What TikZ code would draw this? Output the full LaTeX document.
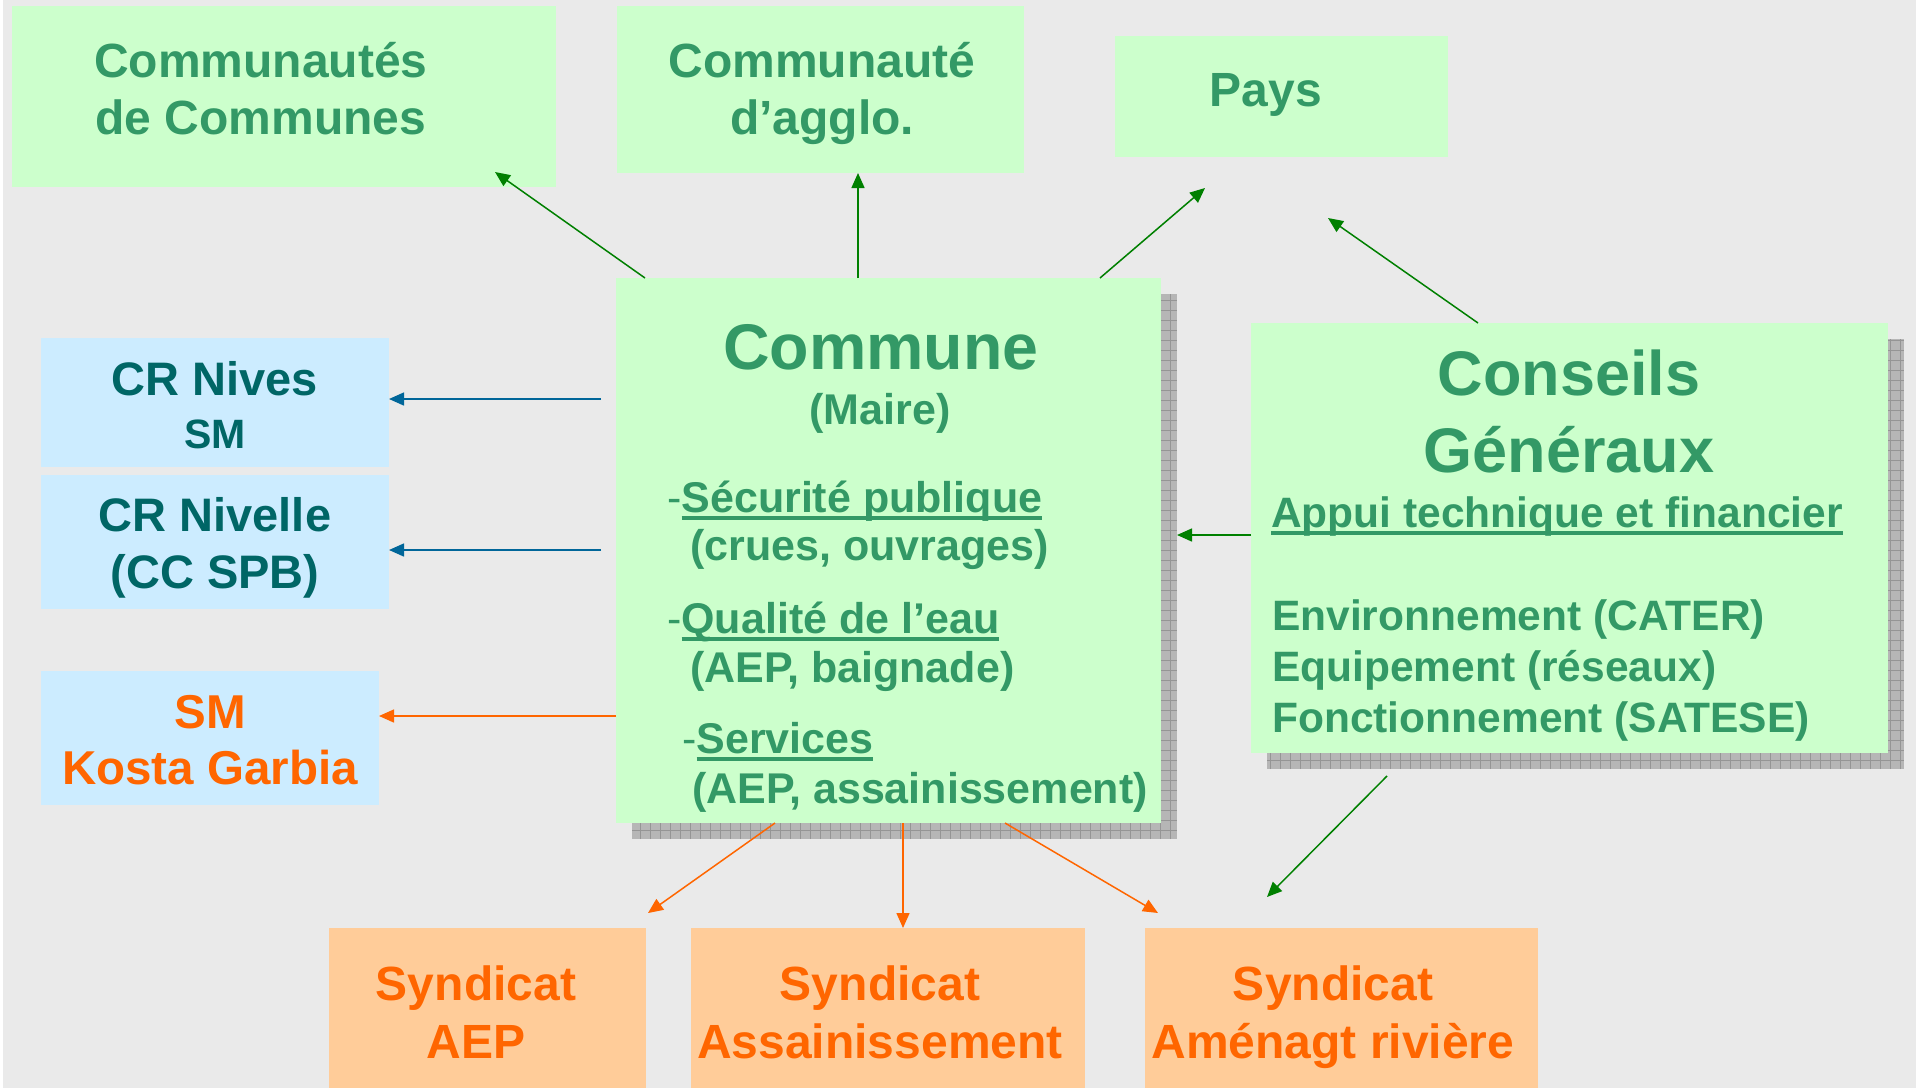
\documentclass[tikz,border=0pt]{standalone}
\usepackage{fontspec}
\setmainfont{Liberation Sans}
\usetikzlibrary{arrows.meta}

\definecolor{paper}{HTML}{EAEAEA}
\definecolor{mint}{HTML}{CCFFCC}
\definecolor{sky}{HTML}{CCECFF}
\definecolor{peach}{HTML}{FFCC99}
\definecolor{leaf}{HTML}{339966}
\definecolor{deepteal}{HTML}{006666}
\definecolor{flame}{HTML}{FF6600}
\definecolor{arrowgreen}{HTML}{008000}
\definecolor{arrowblue}{HTML}{006699}
\definecolor{shade}{HTML}{B6B6B6}
\definecolor{shadegrid}{HTML}{959595}

% underlined heading inside the boxes
\newsavebox\ulbox
\newcommand\ulin[1]{\sbox\ulbox{#1}\rlap{\rule[-8pt]{\wd\ulbox}{4pt}}\usebox\ulbox}
\newcommand\fs[2]{\fontsize{#1}{#2}\selectfont\bfseries}

\tikzset{
  box/.style={anchor=north west, inner sep=0pt, outer sep=0pt},
  gbox/.style={box, fill=mint},
  bbox/.style={box, fill=sky},
  obox/.style={box, fill=peach},
  txt/.style={inner sep=0pt, anchor=base},
  gtxt/.style={txt, text=leaf},
  btxt/.style={txt, text=deepteal},
  otxt/.style={txt, text=flame},
  link/.style={line width=1.5pt, -{Triangle[length=15pt,width=13pt]}},
  glink/.style={link, draw=arrowgreen, arrowgreen},
  blink/.style={link, draw=arrowblue, arrowblue},
  olink/.style={link, draw=flame, flame},
  shadow/.style={fill=shade},
}

\begin{document}
\begin{tikzpicture}[x=1pt, y=-1pt]
  \useasboundingbox (0,0) rectangle (1916,1088);
  \fill[white] (0,0) rectangle (1916,1088);
  \fill[paper] (3,0) rectangle (1916,1088);

  % shadows behind the two big boxes
  \fill[shadow] (632,294) rectangle (1177,839);
  \draw[shadegrid, line width=0.8pt, step=10pt] (632,294) grid (1177,839);
  \fill[shadow] (1267,339) rectangle (1904,769);
  \draw[shadegrid, line width=0.8pt, step=10pt] (1267,339) grid (1904,769);

  % top row
  \node[gbox, minimum width=544, minimum height=181] (cdc) at (12,6) {};
  \node[gbox, minimum width=407, minimum height=167] (agglo) at (617,6) {};
  \node[gbox, minimum width=333, minimum height=121] (pays) at (1115,36) {};

  % centre and right
  \node[gbox, minimum width=545, minimum height=545] (commune) at (616,278) {};
  \node[gbox, minimum width=637, minimum height=430] (cg) at (1251,323) {};

  % left column
  \node[bbox, minimum width=348, minimum height=129] (nives) at (41,338) {};
  \node[bbox, minimum width=348, minimum height=134] (nivelle) at (41,475) {};
  \node[bbox, minimum width=338, minimum height=134] (kosta) at (41,671) {};

  % bottom row
  \node[obox, minimum width=317, minimum height=160] (saep) at (329,928) {};
  \node[obox, minimum width=394, minimum height=160] (sass) at (691,928) {};
  \node[obox, minimum width=393, minimum height=160] (sriv) at (1145,928) {};

  % texts (multi-line nodes sit on their last baseline)
  \node[gtxt, align=center, font=\fs{48}{57}] (cdcT) at (261,134) {Communautés\\de Communes};
  \node[gtxt, align=center, font=\fs{48}{57}] (agglT) at (822,134) {Communauté\\d’agglo.};
  \node[gtxt, font=\fs{48}{57}] (paysT) at (1266,106) {Pays};

  \node[gtxt, font=\fs{64.5}{70}] (comT) at (881,369) {Commune};
  \node[gtxt, font=\fs{43}{48}] (maire) at (880,424) {(Maire)};
  \node[gtxt, anchor=base west, align=left, font=\fs{43}{48}] (secu) at (667,560)
    {{\mdseries-}\ulin{Sécurité publique}\\\hspace*{23pt}(crues, ouvrages)};
  \node[gtxt, anchor=base west, align=left, font=\fs{43}{49}] (qual) at (667,682)
    {{\mdseries-}\ulin{Qualité de l’eau}\\\hspace*{23pt}(AEP, baignade)};
  \node[gtxt, anchor=base west, align=left, font=\fs{43}{50}] (serv) at (682,803)
    {{\mdseries-}\ulin{Services}\\\hspace*{10pt}(AEP, assainissement)};

  \node[gtxt, align=center, font=\fs{63}{77}] (cgT) at (1569,472) {Conseils\\Généraux};
  \node[gtxt, anchor=base west, font=\fs{42.5}{51}] (appui) at (1271,527)
    {\ulin{Appui technique et financier}};
  \node[gtxt, anchor=base west, align=left, font=\fs{42.5}{51}] (cgL) at (1272,732)
    {Environnement (CATER)\\Equipement (réseaux)\\Fonctionnement (SATESE)};

  \node[btxt, align=center, font=\fs{47}{53}] (nivesT) at (215,448)
    {CR Nives\\{\fs{41}{53}SM}};
  \node[btxt, align=center, font=\fs{47}{57}] (nivelleT) at (215,588)
    {CR Nivelle\\(CC SPB)};
  \node[otxt, align=center, font=\fs{47.5}{56}] (kostaT) at (210,784)
    {SM\\Kosta Garbia};

  \node[otxt, align=center, font=\fs{48}{58}] (saepT) at (476,1058) {Syndicat\\AEP};
  \node[otxt, align=center, font=\fs{48}{58}] (sassT) at (880,1058) {Syndicat\\Assainissement};
  \node[otxt, align=center, font=\fs{48}{58}] (srivT) at (1333,1058) {Syndicat\\Aménagt rivière};

  % free ends of the connectors
  \coordinate (cdcTip) at (495,172);
  \coordinate (paysTip) at (1205,188);
  \coordinate (cgTip) at (1328,218);
  \coordinate (nivesStart) at (601,399);
  \coordinate (nivelleStart) at (601,550);
  \coordinate (aepTip) at (648,913);
  \coordinate (rivTip) at (1158,913);
  \coordinate (cgLow) at (1387,776);
  \coordinate (rivTip2) at (1267,897);

  % green links
  \draw[glink] ([xshift=29pt]commune.north west) -- (cdcTip);
  \draw[glink] ([xshift=242pt]commune.north west) -- ([xshift=241pt]agglo.south west);
  \draw[glink] ([xshift=484pt]commune.north west) -- (paysTip);
  \draw[glink] ([xshift=227pt]cg.north west) -- (cgTip);
  \draw[glink] ([yshift=-212pt]cg.north west) -- ([yshift=-212pt]cg.north west -| 1177,0);
  \draw[glink] (cgLow) -- (rivTip2);

  % blue links
  \draw[blink] (nivesStart) -- (nivesStart -| nives.east);
  \draw[blink] (nivelleStart) -- (nivelleStart -| nivelle.east);

  % orange links
  \draw[olink] ([yshift=-438pt]commune.north west) -- ([yshift=-438pt]commune.north west -| kosta.east);
  \draw[olink] ([xshift=159pt]commune.south west) -- (aepTip);
  \draw[olink] ([xshift=287pt]commune.south west) -- ([xshift=212pt]sass.north west);
  \draw[olink] ([xshift=389pt]commune.south west) -- (rivTip);
\end{tikzpicture}
\end{document}
